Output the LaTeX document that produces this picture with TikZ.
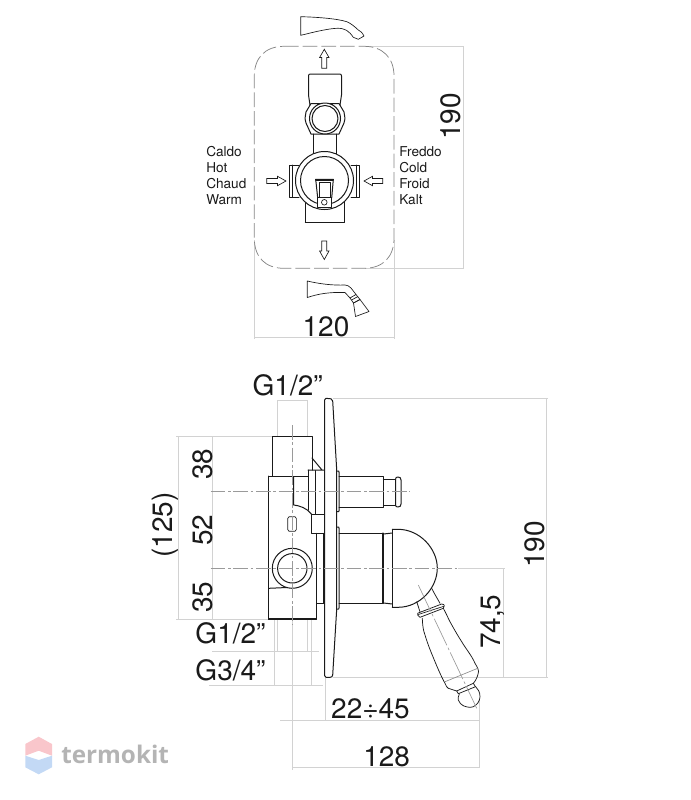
\documentclass[tikz,border=0pt]{standalone}
\usepackage{fontspec}
\setmainfont{TeX Gyre Heros}
\newfontfamily\wmfont{Open Sans}
\definecolor{dimc}{HTML}{D2D2D2}
\definecolor{axisc}{HTML}{9A9A9A}
\definecolor{inkc}{HTML}{1A1A1A}
\definecolor{wmpink}{HTML}{F9C6CB}
\definecolor{wmblue}{HTML}{C3D9F5}
\definecolor{wmgray}{HTML}{B4B4B4}
\tikzset{
 ink/.style={draw=inkc,line width=0.75pt,line join=round,line cap=round},
 lever/.style={draw=inkc,line width=0.55pt,line join=round,line cap=round},
 thin ink/.style={draw=inkc,line width=0.5pt,line join=round},
 dimline/.style={draw=dimc,line width=0.7pt},
 axisline/.style={draw=axisc,line width=0.55pt,dash pattern=on 11pt off 2pt on 2pt off 2pt},
 bigtxt/.style={font=\fontsize{21}{23}\selectfont,text=inkc,inner sep=0pt},
 smalltxt/.style={font=\fontsize{10.2}{12}\selectfont,text=inkc,inner sep=0pt,anchor=base west},
 hollow/.style={draw=inkc,line width=0.5pt,fill=white,line join=miter},
}
\begin{document}
\begin{tikzpicture}[x=0.75pt,y=-0.75pt]
\useasboundingbox (0,0) rectangle (690,800);
% ---- TOP VIEW dimensions
\draw[dimline] (365,46.3) -- (464,46.3) (463,46.3) -- (463,268.3) (365,268.3) -- (464,268.3);
\draw[dimline] (254.3,240) -- (254.3,339) (394,240) -- (394,339) (254.3,337.5) -- (394,337.5);
% plate outline
\draw[draw=black!48,line width=0.55pt,dash pattern=on 11pt off 3pt] (284,46.3) -- (364,46.3) .. controls (383,46.3) and (394,58) .. (394,76) -- (394,238) .. controls (394,257) and (383,268.3) .. (364,268.3) -- (284,268.3) .. controls (265,268.3) and (254.3,257) .. (254.3,238) -- (254.3,76) .. controls (254.3,58) and (265,46.3) .. (284,46.3) -- cycle;
% spout
\draw[thin ink] (300.7,16.7) -- (300.7,35.3) -- (305,34.3) .. controls (318,31) and (330,28.5) .. (337,28.3) .. controls (345,28) and (349,31) .. (353.3,37.3) -- (358.3,39.3) -- (364,36) .. controls (362,32) and (360,31) .. (358.3,30) .. controls (354,26) and (351,23.5) .. (346.7,21.7) .. controls (337,18.5) and (315,17) .. (300.7,16.7) -- cycle;
% shower
\draw[thin ink] (307.3,281) -- (307.3,297.5) .. controls (318,294) and (328,292) .. (345,292.5) -- (350,298) -- (356,294.5) -- (351,288) .. controls (349,286) and (347,285) .. (345,285) .. controls (333,285.5) and (320,284) .. (307.3,281) -- cycle;
\draw[thin ink] (350,298) -- (353.5,303) -- (360,299.5) -- (356,294.5);
\draw[thin ink] (353.5,303) -- (355.5,316.5) -- (369,311.5) -- (360,299.5) -- cycle;
\draw[thin ink] (351.5,300) -- (358,296.5);
% arrows
\draw[hollow] (324.3,49.3) -- (329,57.5) -- (326.8,57.5) -- (326.8,68.3) -- (321.8,68.3) -- (321.8,57.5) -- (319.6,57.5) -- cycle;
\draw[hollow] (324.3,259.5) -- (329,251) -- (326.8,251) -- (326.8,241) -- (321.8,241) -- (321.8,251) -- (319.6,251) -- cycle;
\draw[hollow] (286,181) -- (277.5,176.3) -- (277.5,178.5) -- (266.8,178.5) -- (266.8,183.5) -- (277.5,183.5) -- (277.5,185.7) -- cycle;
\draw[hollow] (364,181) -- (372.5,176.3) -- (372.5,178.5) -- (382.8,178.5) -- (382.8,183.5) -- (372.5,183.5) -- (372.5,185.7) -- cycle;
% labels
\node[smalltxt] (tcaldo) at (206,156) {Caldo};
\node[smalltxt] (thot) at (206,172.3) {Hot};
\node[smalltxt] (tchaud) at (206,188) {Chaud};
\node[smalltxt] (twarm) at (206,204.5) {Warm};
\node[smalltxt] (tfreddo) at (399,156) {Freddo};
\node[smalltxt] (tcold) at (399,172.3) {Cold};
\node[smalltxt] (tfroid) at (399,188) {Froid};
\node[smalltxt] (tkalt) at (399,204.5) {Kalt};
\node[bigtxt,rotate=90] (t190a) at (450.5,116.5) {190};
\node[bigtxt] (t120) at (326,327) {120};
% ---- valve front
\draw[ink] (308.5,76) .. controls (308.5,74.5) and (309,74) .. (310.5,74) -- (339.5,74) .. controls (341,74) and (341.5,74.5) .. (341.5,76) -- (341.5,95) -- (340,105);
\draw[ink] (308.5,76) -- (308.5,95) -- (310,105);
\draw[ink] (313.5,134) -- (313.5,162) (336.5,134) -- (336.5,162);
\draw[ink] (317.5,104) arc[start angle=180,end angle=0,radius=7.5];
% hex nut
\draw[ink] (311,103.5) -- (339,103.5) -- (344,112) -- (345,118.5) -- (344,123) -- (339,134) -- (311,134) -- (306,123) -- (305,118.5) -- (306,112) -- cycle;
\draw[ink,fill=white] (325,118.5) circle[radius=15.5];
\draw[ink,fill=white] (325,118.5) circle[radius=13];
% cross body
\draw[ink] (305.5,200) -- (305.5,222.7) -- (344,222.7) -- (344,200);
\draw[ink,line width=0.9pt] (305.5,222.7) -- (344,222.7);
\draw[ink] (299,165) -- (289.5,165) -- (289.5,197.3) -- (299,197.3);
\draw[ink] (351,165) -- (359.5,165) -- (359.5,197.3) -- (351,197.3);
\draw[ink] (292.5,165) -- (292.5,197.3) (356.5,165) -- (356.5,197.3);
\draw[ink,fill=white] (324.5,180.5) circle[radius=29];
\draw[ink] (324.5,180.5) circle[radius=24];
% handle
\draw[ink,fill=white] (315.7,179.3) -- (333.3,179.3) -- (331.7,198) -- (317.7,198) -- cycle;
\draw[thin ink] (319,182.3) -- (330.7,182.3) -- (330.7,198) (319,182.3) -- (319,198);
\draw[ink,line width=1pt] (315.9,180.5) -- (333.1,180.5);
\draw[ink,fill=white] (317.3,197.7) -- (331.9,197.7) -- (331.9,207) -- (317.3,207) -- cycle;
\draw[thin ink] (324.3,202.3) circle[radius=2.8];
% ---- SIDE VIEW dimensions
\draw[dimline] (277,400.7) -- (277,436) (307.7,400.7) -- (307.7,436) (277,400.7) -- (307.7,400.7);
\draw[dimline] (176,436.7) -- (272,436.7) (176,619) -- (268,619) (178.3,436.7) -- (178.3,619) (212.7,436.7) -- (212.7,619);
\draw[dimline] (333,398.3) -- (548,398.3) (333,677.3) -- (548,677.3) (546,398.3) -- (546,677.3);
\draw[dimline] (503.5,568.3) -- (503.5,677.3) (458,568.3) -- (505,568.3);
\draw[dimline] (212,651.7) -- (319,651.7) (209,685.7) -- (323.3,685.7);
\draw[dimline] (274,619) -- (274,685.7) (311.7,619) -- (311.7,685.7) (277.3,619) -- (277.3,651.7) (307.3,619) -- (307.3,651.7);
\draw[dimline] (280,720) -- (479,720) (325,677.3) -- (325,720) (479,700) -- (479,767.7);
\draw[dimline] (292.3,619) -- (292.3,770) (292.3,767.7) -- (479,767.7);
% plate
\draw[ink] (324.5,400) .. controls (324.5,398.5) and (325,398.3) .. (326,398.3) -- (331,398.8) .. controls (332.2,399) and (332.7,399.5) .. (332.7,401) -- (336.7,470) -- (336.7,609) -- (332.7,675) .. controls (332.5,676.7) and (331.5,677.3) .. (330,677.3) -- (326,677.3) .. controls (325,677.3) and (324.5,677) .. (324.5,675.5) -- cycle;
% valve body
\draw[ink] (272.3,476) -- (272.3,436.7) -- (312,436.7) -- (312,470);
\draw[ink] (312,458) -- (322,470) (308,470) -- (324.5,470);
\draw[ink] (268.7,476) -- (308,476) (268.7,476) -- (268.7,619) -- (316,619) -- (316,603.3);
\draw[ink,line width=1pt] (268.7,619) -- (316,619);
\draw[ink] (293.7,477) -- (293.7,505) .. controls (299,505.5) and (307,508) .. (311.3,514);
\draw[ink] (308,470) -- (308,510) (315.3,470.7) -- (315.3,514) (311.3,514) -- (324.5,514) (311.3,514) -- (311.3,533.3) -- (324.5,533.3);
\draw[ink] (316.5,533.3) -- (316.5,603.3) -- (324.5,603.3) (323.7,533.3) -- (323.7,603.3);
\draw[thin ink] (287.7,518.5) .. controls (287.7,517) and (288,516.7) .. (289,516.7) -- (295,516.7) .. controls (296,516.7) and (296.4,517) .. (296.4,518.5) -- (296.4,529.5) .. controls (296.4,531) and (296,531.3) .. (295,531.3) -- (289,531.3) .. controls (288,531.3) and (287.7,531) .. (287.7,529.5) -- cycle;
\draw[ink] (268.7,588.3) -- (287,587.5);
\draw[ink] (292.3,568.3) circle[radius=20];
\draw[ink] (292.3,568.3) circle[radius=14.7];
% plate collars
\draw[ink] (336.7,471) -- (338.7,471) -- (339.2,473) -- (339.2,510) -- (338.7,511.7) -- (336.7,511.7);
\draw[ink] (336.7,527) -- (338.7,527) -- (339.2,529) -- (339.2,607) -- (338.7,609) -- (336.7,609);
% upper stem
\draw[ink] (339.2,476.7) -- (383.3,476.7) -- (383.3,507.3) -- (339.2,507.3);
\draw[ink] (383.3,479.3) -- (395.5,479.3) (383.3,505) -- (395.5,505);
\draw[ink] (395.5,505) -- (395.5,479.3) .. controls (395.5,477.5) and (396.5,477) .. (398,477) .. controls (400,477) and (401,478) .. (401,480) -- (401,504) .. controls (401,506) and (400,507) .. (398,507) .. controls (396.5,507) and (395.5,506.5) .. (395.5,505) -- cycle;
% lower stem
\draw[ink] (339.2,533.3) -- (382.5,533.3) (339.2,603.3) -- (382.5,603.3);
\draw[ink,line width=1.3pt] (383,533.3) -- (383,603.3);
\draw[ink] (383.5,534) -- (392.3,533) (383.5,603) -- (392.3,604);
% dome
\draw[ink] (392.3,529.3) -- (392.3,607.3);
\draw[ink] (392.3,529.3) -- (398,529.3) .. controls (420,529.3) and (437.3,549) .. (437.3,568) .. controls (437.3,588) and (420,607.3) .. (398,607.3) -- (392.3,607.3);
% lever handle
\draw[lever] (431.7,588.3) .. controls (434,593) and (437,598) .. (440,603.3);
\draw[lever] (416.7,601.7) -- (420,611.7);
\draw[lever] (417.7,615) .. controls (417,613.5) and (418,612.5) .. (420,612.3) -- (441.7,604) .. controls (443.5,604) and (444.5,605) .. (444.3,605.7) -- (443.3,608.3) -- (420,617.3) .. controls (418.5,617) and (418,616) .. (417.7,615) -- cycle;
\draw[thin ink] (418.2,614.5) -- (443.8,606.3);
\draw[lever] (422.3,618.3) .. controls (422.5,624) and (423,630) .. (425,635) .. controls (428,645) and (431,652) .. (435,661.7) .. controls (438,669) and (442,678) .. (445,683.3) .. controls (446,686) and (447,687.5) .. (448.3,688.3) -- (456.7,691);
\draw[lever] (443.3,608.3) .. controls (446,613) and (448,618) .. (450,621.7) .. controls (454,629) and (458,636) .. (461.7,641.7) .. controls (466,649) and (472,656) .. (475,663.3) .. controls (478,668) and (479,671) .. (478.3,673) .. controls (477.5,677) and (475.5,681) .. (473.3,683.3);
\draw[draw=black!45,line width=0.5pt] (445,681.7) -- (477.7,668.3);
\draw[lever] (456.7,691) -- (473.3,683.3) -- (475.5,686.7) -- (458.3,693.7) -- cycle;
\draw[lever] (459.3,694) .. controls (458,697) and (458,698) .. (458.3,700) .. controls (459.5,703) and (461,704.5) .. (463.3,705.7) .. controls (467,707.5) and (471,707.5) .. (473.3,706.7) .. controls (477,705) and (480,701) .. (480,696.7) .. controls (480,692) and (478,689) .. (475.7,686.7);
% axes
\draw[axisline] (292.3,425) -- (292.3,625);
\draw[axisline] (210.7,491.7) -- (410,491.7);
\draw[axisline] (210.7,568.3) -- (458,568.3);
\draw[draw=axisc,line width=0.5pt,dash pattern=on 22pt off 2pt on 2pt off 2pt] (418.3,585) -- (476.7,708.3);
% side-view text
\node[bigtxt] (tg12a) at (287.7,385) {G1/2”};
\node[bigtxt,rotate=90] (t125) at (165,525) {(125)};
\node[bigtxt,rotate=90] (t38) at (202.5,464) {38};
\node[bigtxt,rotate=90] (t52) at (202.5,530) {52};
\node[bigtxt,rotate=90] (t35) at (202.5,597) {35};
\node[bigtxt] (tg12b) at (230.5,633.5) {G1/2”};
\node[bigtxt] (tg34) at (230.5,670.5) {G3/4”};
\node[bigtxt] (t2245) at (370.5,709) {22÷45};
\node[bigtxt] (t128) at (386.7,757) {128};
\node[bigtxt,rotate=90] (t190b) at (534.5,544.5) {190};
\node[bigtxt,rotate=90] (t745) at (492.5,621.7) {74,5};
% watermark
\fill[wmpink] (38.7,736.7) -- (52,744) -- (52,755.7) -- (38.7,750.7) -- (25.3,755.7) -- (25.3,744) -- cycle;
\fill[wmblue] (38.7,760) -- (52,755.7) -- (52,767.3) -- (38.7,774.3) -- (25.3,767.3) -- (25.3,755.7) -- cycle;
\node[font=\wmfont\bfseries\fontsize{18.2}{20}\selectfont,text=wmgray,inner sep=0pt,anchor=base west] (twm) at (61,763) {termokit};
\end{tikzpicture}
\end{document}
